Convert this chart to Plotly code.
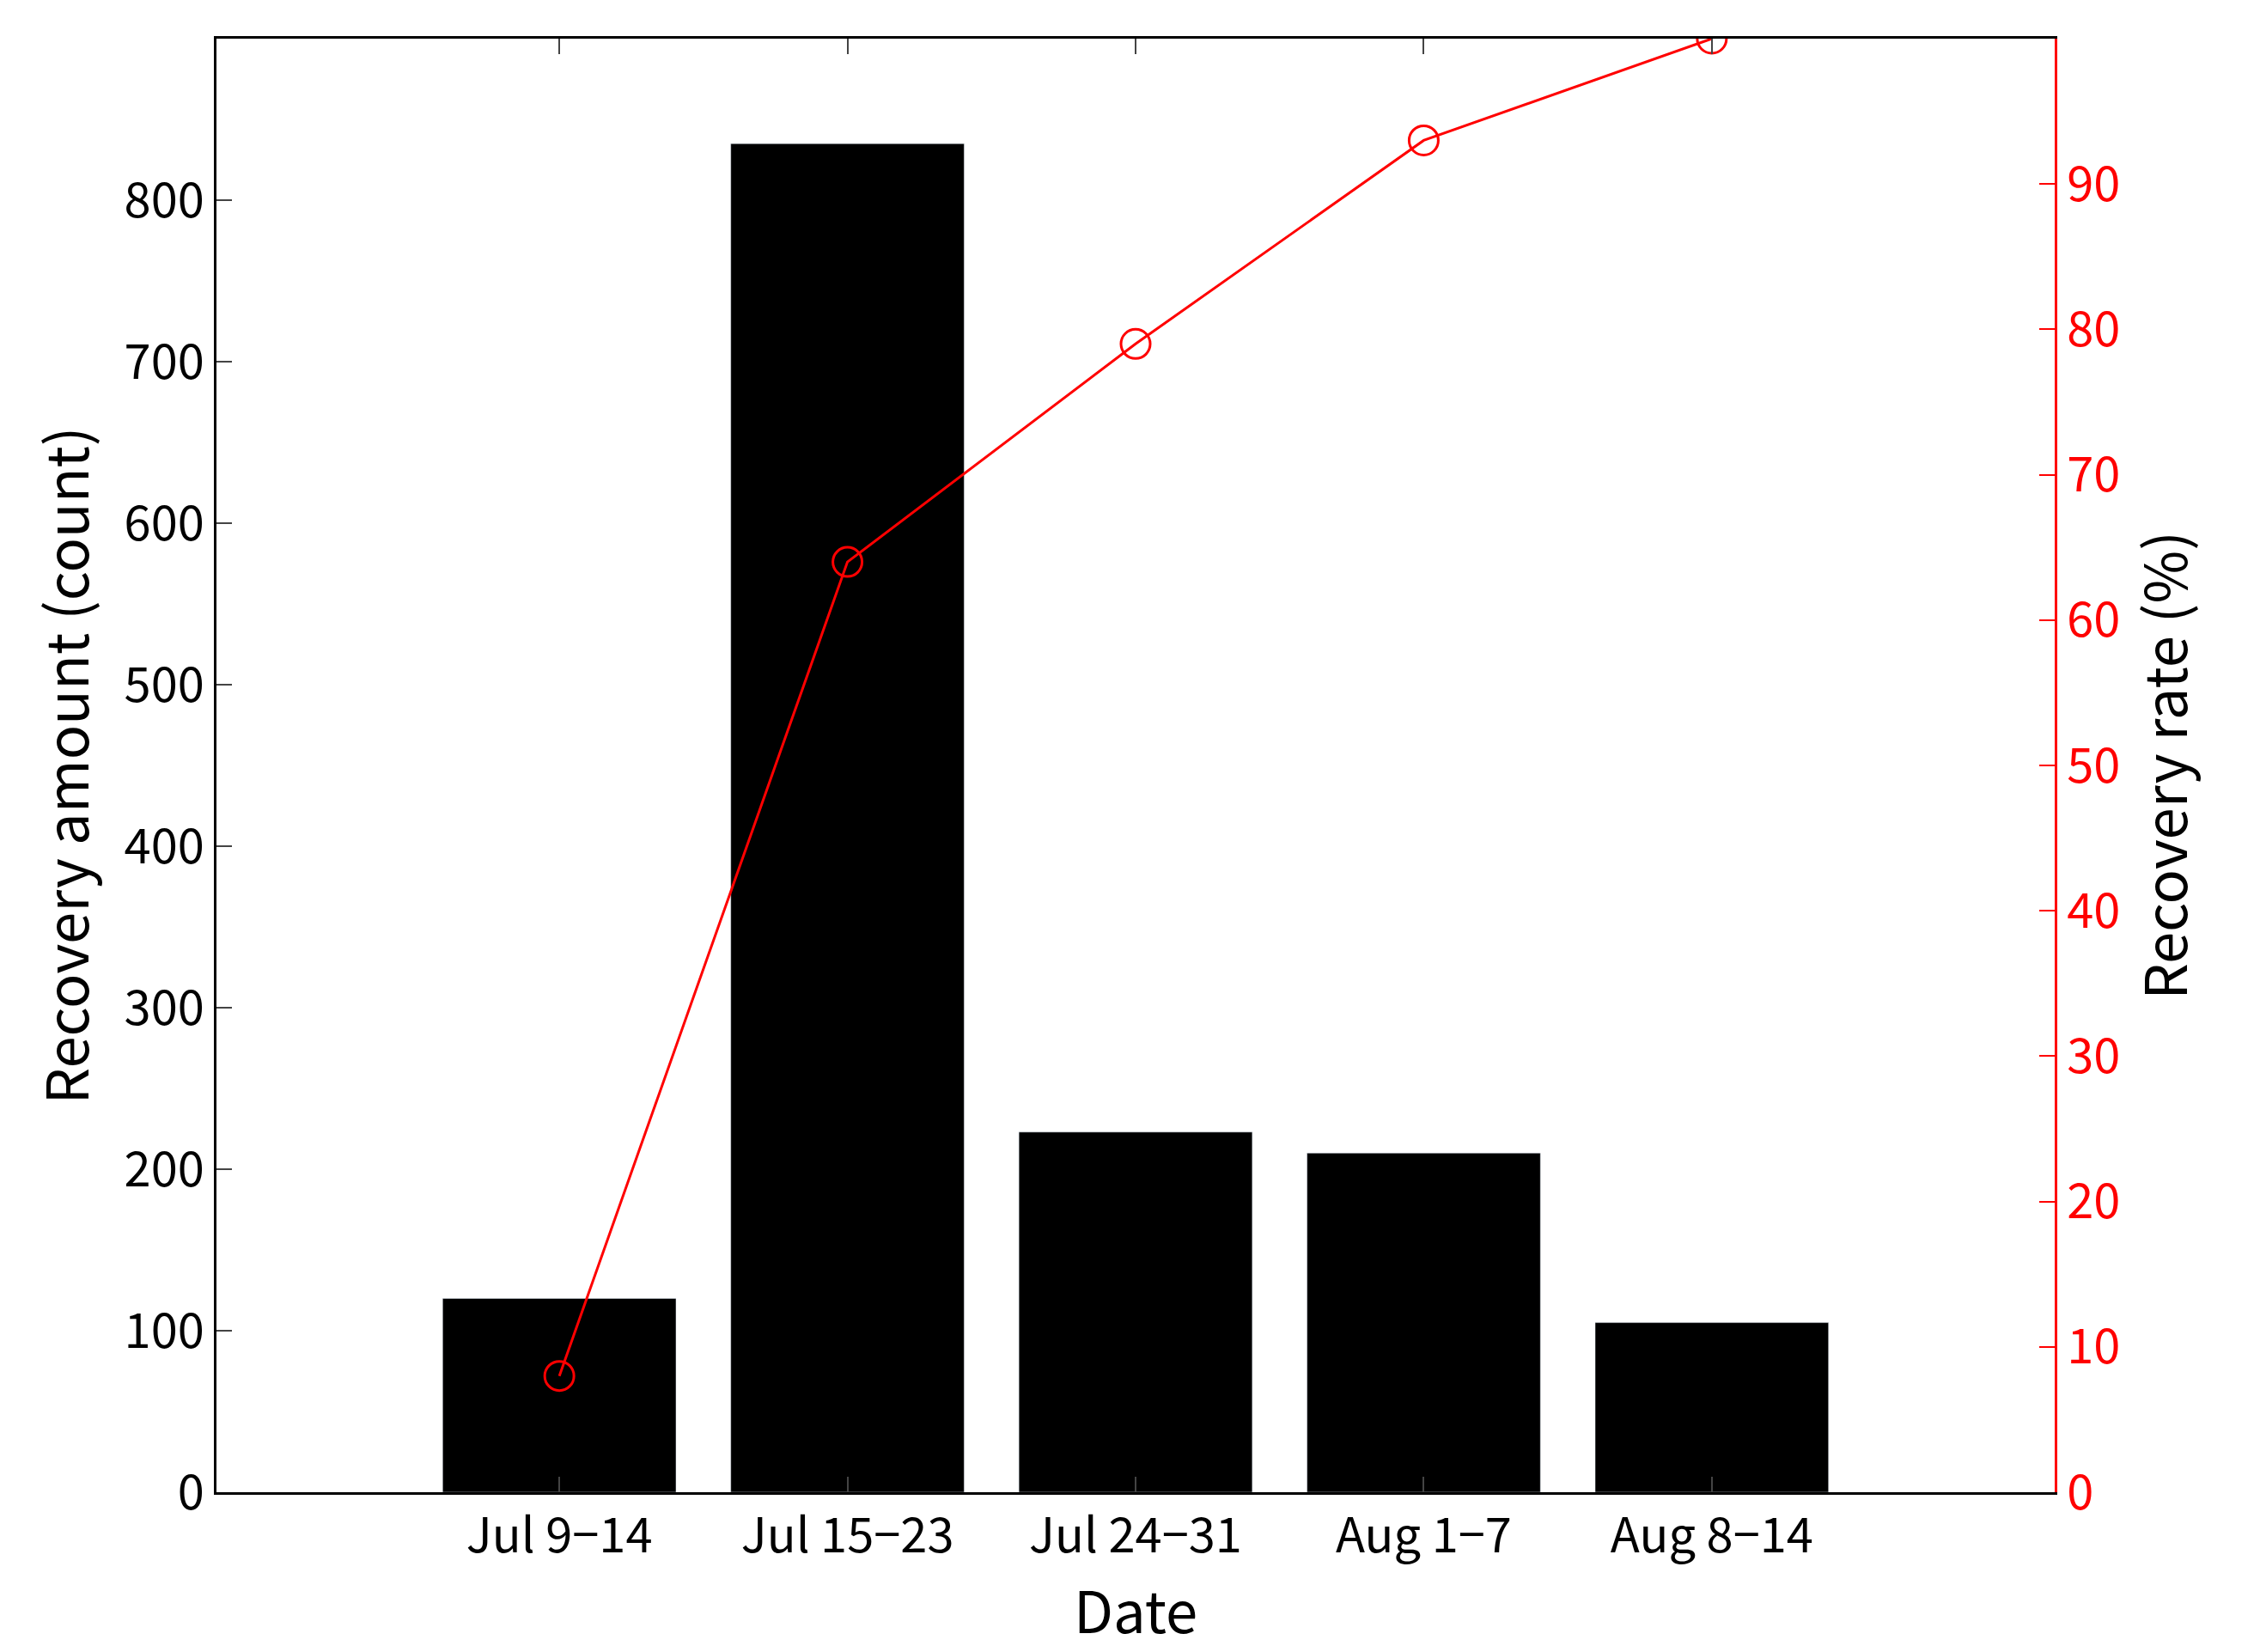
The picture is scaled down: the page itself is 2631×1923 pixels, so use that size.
import plotly.graph_objects as go

categories = ["Jul 9−14", "Jul 15−23", "Jul 24−31", "Aug 1−7", "Aug 8−14"]
amount = [120, 835, 223, 210, 105]
rate = [8, 64, 79, 93, 100]
xi = list(range(len(categories)))

font = "Noto Sans CJK JP, Liberation Sans, sans-serif"
fig = go.Figure()
fig.add_trace(go.Bar(x=xi, y=amount, marker_color="black", width=0.81, yaxis="y"))
fig.add_trace(go.Scatter(x=xi, y=rate, yaxis="y2", mode="lines+markers",
                         line=dict(color="red", width=3),
                         marker=dict(symbol="circle-open", size=34, color="red", line=dict(width=3))))
fig.update_layout(
    width=2631, height=1923, plot_bgcolor="white", paper_bgcolor="white",
    showlegend=False, font=dict(family=font, size=56, color="black"),
    margin=dict(l=244, r=247, t=37, b=194),
    xaxis=dict(range=[-1.19, 5.19], tickvals=xi, ticktext=categories,
               showline=True, linecolor="black", linewidth=3, mirror="ticks",
               ticks="inside", ticklen=18, tickwidth=2, showgrid=False,
               title=dict(text="Date", standoff=10)),
    yaxis=dict(range=[0, 900], dtick=100, showline=True, linecolor="black", linewidth=3,
               ticks="inside", ticklen=18, tickwidth=2, showgrid=False, zeroline=False,
               title=dict(text="Recovery amount (count)", standoff=20)),
    yaxis2=dict(range=[0, 100], dtick=10, overlaying="y", side="right",
                showline=True, linecolor="red", linewidth=3, ticks="inside", ticklen=18,
                tickwidth=2, tickcolor="red", tickfont=dict(color="red"), showgrid=False,
                zeroline=False, title=dict(text="Recovery rate (%)", font=dict(color="black"), standoff=20)),
)
fig.write_html("out.html")
